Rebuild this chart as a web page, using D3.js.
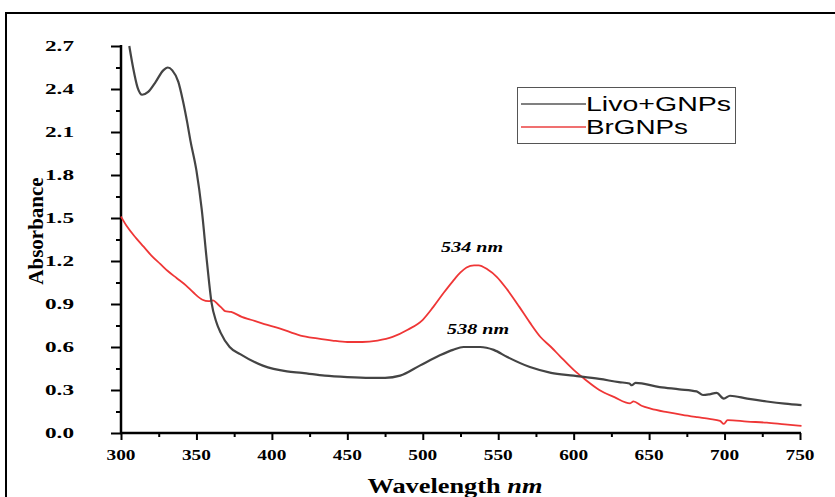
<!DOCTYPE html>
<html>
<head>
<meta charset="utf-8">
<script src="https://cdnjs.cloudflare.com/ajax/libs/d3/7.8.5/d3.min.js"></script>
<style>
  html, body { margin: 0; padding: 0; background: #fff; }
  svg { display: block; }
</style>
</head>
<body>
<div id="chart"></div>
<script>
// wavelength (nm) / absorbance pairs
var livoWl  = [305.5, 308, 311, 314, 318, 323, 328, 331, 334, 338, 341, 344, 346, 350, 353.5, 357, 360, 363, 366, 372, 379, 394, 410, 420, 435, 450, 465, 475, 485, 498, 511, 520, 527, 538, 547, 556, 571, 585, 600, 617, 630, 637, 638.5, 641, 657, 670, 681.5, 685.7, 690, 694.7, 699.5, 703.6, 715, 728, 740, 751];
var livoAbs = [2.70, 2.55, 2.41, 2.36, 2.38, 2.45, 2.53, 2.55, 2.53, 2.45, 2.32, 2.16, 2.04, 1.83, 1.56, 1.19, 0.91, 0.78, 0.70, 0.60, 0.55, 0.47, 0.43, 0.42, 0.40, 0.39, 0.385, 0.385, 0.40, 0.47, 0.54, 0.58, 0.60, 0.60, 0.58, 0.53, 0.46, 0.42, 0.40, 0.377, 0.355, 0.345, 0.333, 0.35, 0.32, 0.305, 0.29, 0.265, 0.27, 0.28, 0.24, 0.26, 0.24, 0.22, 0.205, 0.195];

var brWl  = [300, 304, 310, 315, 320, 326, 331, 337, 343, 348, 354, 358, 361, 364, 367, 369, 373, 380, 386, 395, 405, 419, 430, 440, 450, 460, 470, 480, 490, 500, 507, 514, 520, 525, 529, 534, 537, 543, 549, 556, 564, 571, 578, 585, 591, 600, 608, 617, 627, 637.4, 639.6, 645, 651, 662, 672, 682, 690, 697, 699.5, 702, 715, 728, 740, 751];
var brAbs = [1.51, 1.44, 1.36, 1.30, 1.24, 1.18, 1.13, 1.08, 1.03, 0.98, 0.93, 0.92, 0.925, 0.90, 0.87, 0.85, 0.845, 0.81, 0.79, 0.76, 0.73, 0.68, 0.66, 0.645, 0.635, 0.635, 0.645, 0.67, 0.72, 0.79, 0.88, 0.98, 1.06, 1.12, 1.155, 1.17, 1.17, 1.14, 1.09, 1.00, 0.88, 0.77, 0.67, 0.60, 0.535, 0.44, 0.37, 0.30, 0.25, 0.207, 0.22, 0.19, 0.17, 0.145, 0.126, 0.11, 0.098, 0.085, 0.063, 0.09, 0.08, 0.072, 0.06, 0.05];

var seriesNames = ['Livo+GNPs', 'BrGNPs'];
var xTicks = [300, 350, 400, 450, 500, 550, 600, 650, 700, 750];
var yTicks = [0.0, 0.3, 0.6, 0.9, 1.2, 1.5, 1.8, 2.1, 2.4, 2.7];
var peakLabels = [{ wl: 534, abs: 1.17, text: '534 nm' }, { wl: 538, abs: 0.60, text: '538 nm' }];

var W = 835, H = 497;
var svg = d3.select('#chart').append('svg').attr('width', W).attr('height', H);

// outer frame (only top and left edges visible)
svg.append('path')
  .attr('d', 'M6,' + H + 'V13H' + W)
  .attr('fill', 'none').attr('stroke', '#000').attr('stroke-width', 2);

var x = d3.scaleLinear().domain([300, 750]).range([121, 800]);
var y = d3.scaleLinear().domain([0, 2.7]).range([433, 46]);

var serif = '"Liberation Serif", "Times New Roman", serif';

// x axis
var gx = svg.append('g').attr('transform', 'translate(0,433)');
gx.call(d3.axisBottom(x).tickValues(d3.range(300, 751, 25)).tickSize(4).tickFormat(''))
  .call(g => g.select('.domain').remove());
gx.selectAll('.tick line').attr('stroke', '#000').attr('stroke-width', 2)
  .filter(d => d % 50 === 0).attr('y2', 7);
gx.append('line').attr('x1', 120).attr('x2', 801).attr('stroke', '#000').attr('stroke-width', 2.5);
gx.selectAll('.lbl').data(xTicks).enter().append('text')
  .attr('x', d => x(d)).attr('y', 27)
  .attr('text-anchor', 'middle').attr('fill', '#000')
  .attr('font-family', serif).attr('font-weight', 'bold').attr('font-size', 15)
  .attr('textLength', 29).attr('lengthAdjust', 'spacingAndGlyphs')
  .text(d => d);

// y axis
var gy = svg.append('g').attr('transform', 'translate(121,0)');
gy.call(d3.axisLeft(y).tickValues(d3.range(0, 2.71, 0.15)).tickSize(5).tickFormat(''))
  .call(g => g.select('.domain').remove());
gy.selectAll('.tick line').attr('stroke', '#000').attr('stroke-width', 2)
  .filter((d, i) => i % 2 === 0).attr('x2', -10);
gy.append('line').attr('y1', 45).attr('y2', 434).attr('stroke', '#000').attr('stroke-width', 2.5);
gy.selectAll('.lbl').data(yTicks).enter().append('text')
  .attr('x', -47).attr('y', d => y(d) + 5).attr('fill', '#000')
  .attr('font-family', serif).attr('font-weight', 'bold').attr('font-size', 15)
  .attr('textLength', 29).attr('lengthAdjust', 'spacingAndGlyphs')
  .text(d => d.toFixed(1));

// axis titles
var xt = svg.append('text')
  .attr('x', 455).attr('y', 493).attr('text-anchor', 'middle')
  .attr('font-family', serif).attr('font-weight', 'bold').attr('font-size', 20)
  .attr('textLength', 175).attr('lengthAdjust', 'spacingAndGlyphs');
xt.append('tspan').text('Wavelength ');
xt.append('tspan').attr('font-style', 'italic').text('nm');

svg.append('text')
  .attr('transform', 'translate(43,231) rotate(-90)')
  .attr('text-anchor', 'middle')
  .attr('font-family', serif).attr('font-weight', 'bold').attr('font-size', 21)
  .text('Absorbance');

// series
var line = d3.line().x(d => x(d[0])).y(d => y(d[1])).curve(d3.curveMonotoneX);
svg.append('path')
  .datum(brWl.map((w, i) => [w, brAbs[i]]))
  .attr('d', line).attr('fill', 'none')
  .attr('stroke', '#ef3636').attr('stroke-width', 1.8);
svg.append('path')
  .datum(livoWl.map((w, i) => [w, livoAbs[i]]))
  .attr('d', line).attr('fill', 'none')
  .attr('stroke', '#444').attr('stroke-width', 2.2);

// peak annotations
svg.selectAll('.peak').data(peakLabels).enter().append('text')
  .attr('x', d => x(d.wl) - 2).attr('y', d => y(d.abs) - 13)
  .attr('text-anchor', 'middle')
  .attr('font-family', serif).attr('font-weight', 'bold').attr('font-style', 'italic').attr('font-size', 14)
  .attr('textLength', 62).attr('lengthAdjust', 'spacingAndGlyphs')
  .text(d => d.text);

// legend
var lg = svg.append('g');
lg.append('rect').attr('x', 517.5).attr('y', 87.5).attr('width', 218).attr('height', 56)
  .attr('fill', '#fff').attr('stroke', '#555').attr('stroke-width', 1);
var legendColors = ['#808080', '#f07070'];
var legendWidths = [145, 102];
seriesNames.forEach(function (name, i) {
  var yy = 104 + i * 23;
  lg.append('line').attr('x1', 521).attr('x2', 586).attr('y1', yy).attr('y2', yy)
    .attr('stroke', legendColors[i]).attr('stroke-width', 2);
  lg.append('text').attr('x', 586).attr('y', yy + 7)
    .attr('font-family', '"Liberation Sans", Arial, sans-serif').attr('font-size', 21)
    .attr('textLength', legendWidths[i]).attr('lengthAdjust', 'spacingAndGlyphs')
    .text(name);
});
</script>
</body>
</html>
